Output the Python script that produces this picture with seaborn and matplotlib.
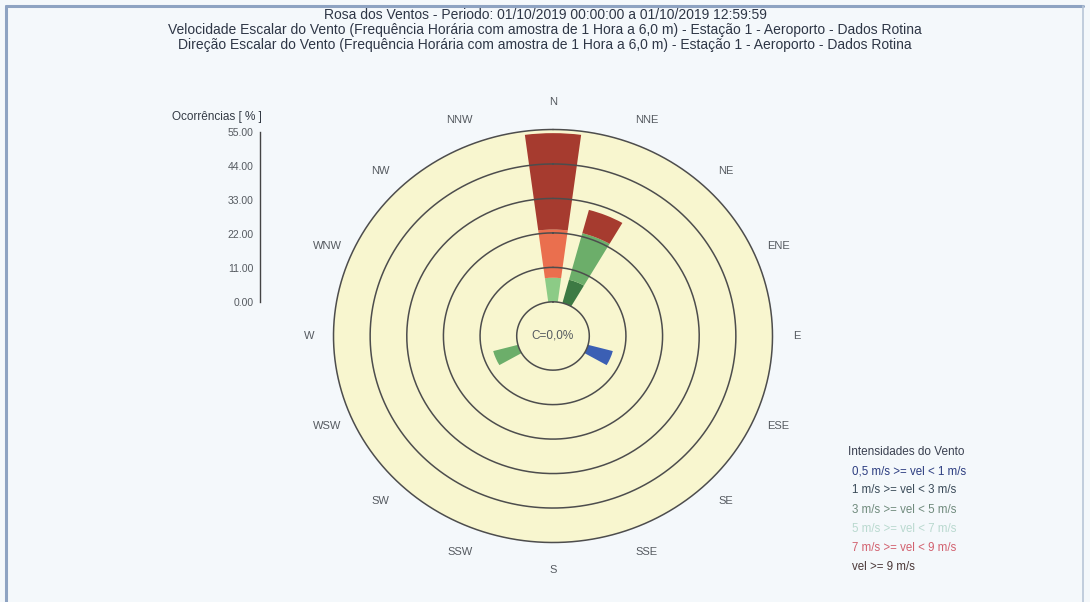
import numpy as np
import matplotlib
matplotlib.use("Agg")
import matplotlib.pyplot as plt
from matplotlib.lines import Line2D
import seaborn as sns

# Wind rose data: occurrences (%) per direction and speed class
directions = ["N", "NNE", "NE", "ENE", "E", "ESE", "SE", "SSE",
              "S", "SSW", "SW", "WSW", "W", "WNW", "NW", "NNW"]
vel_05_1 = [0, 0, 0, 0, 0, 7.69, 0, 0, 0, 0, 0, 0, 0, 0, 0, 0]
vel_1_3 = [0, 7.69, 0, 0, 0, 0, 0, 0, 0, 0, 0, 0, 0, 0, 0, 0]
vel_3_5 = [0, 15.38, 0, 0, 0, 0, 0, 0, 0, 0, 0, 7.69, 0, 0, 0, 0]
vel_5_7 = [7.69, 0, 0, 0, 0, 0, 0, 0, 0, 0, 0, 0, 0, 0, 0, 0]
vel_7_9 = [15.38, 0, 0, 0, 0, 0, 0, 0, 0, 0, 0, 0, 0, 0, 0, 0]
vel_9 = [30.77, 7.69, 0, 0, 0, 0, 0, 0, 0, 0, 0, 0, 0, 0, 0, 0]

class_labels = ["0,5 m/s >= vel < 1 m/s", "1 m/s >= vel < 3 m/s",
                "3 m/s >= vel < 5 m/s", "5 m/s >= vel < 7 m/s",
                "7 m/s >= vel < 9 m/s", "vel >= 9 m/s"]
scale_ticks = [0, 11, 22, 33, 44, 55]
calm_label = "C=0,0%"

titles = [
    "Rosa dos Ventos - Periodo: 01/10/2019 00:00:00 a 01/10/2019 12:59:59",
    "Velocidade Escalar do Vento (Frequência Horária com amostra de 1 Hora a 6,0 m) - Estação 1 - Aeroporto - Dados Rotina",
    "Direção Escalar do Vento (Frequência Horária com amostra de 1 Hora a 6,0 m) - Estação 1 - Aeroporto - Dados Rotina",
]

sns.set_style("white")
plt.rcParams["font.family"] = ["Liberation Sans", "DejaVu Sans"]

bar_colors = sns.color_palette(["#3b5fb4", "#3d7a44", "#6cae6a",
                                "#8ccb86", "#ea6f4e", "#a63b2f"])
legend_text_colors = ["#2c3d80", "#3a4a58", "#6f8a7c", "#b9d9cf",
                      "#d2606e", "#4a3838"]
label_col = "#555a60"

W, H = 1090, 602
fig = plt.figure(figsize=(W / 100, H / 100), dpi=100)
fig.patch.set_facecolor("#f4f8fb")

# page frame
frame_col = "#8ea3c2"
fig.add_artist(Line2D([6 / W, 1083 / W], [1 - 6 / H, 1 - 6 / H],
                      transform=fig.transFigure, color=frame_col, lw=2.2))
fig.add_artist(Line2D([6 / W, 6 / W], [0, 1 - 6 / H],
                      transform=fig.transFigure, color=frame_col, lw=2.2))
fig.add_artist(Line2D([1083 / W, 1083 / W], [0, 1 - 6 / H],
                      transform=fig.transFigure, color="#b8c6d8", lw=1.2))

for i, t in enumerate(titles):
    fig.text(545 / W, 1 - (15 + 14.8 * i) / H, t, ha="center", va="center",
             fontsize=10, color="#2e3646")

# polar rose: the calm circle occupies radii below zero
cx, cy, rx, ry = 553, 336, 219.5, 206.5
calm_r = -10.9
ax = fig.add_axes([(cx - rx) / W, (H - cy - ry) / H, 2 * rx / W, 2 * ry / H],
                  projection="polar")
ax.set_aspect("auto")
ax.set_theta_zero_location("N")
ax.set_theta_direction(-1)
rmax = scale_ticks[-1]
ax.set_ylim(calm_r, rmax)
ax.set_facecolor("#f8f6cf")
ax.grid(False)
ax.set_xticks([])
ax.set_yticks([])
ax.spines["polar"].set_visible(False)

theta = np.deg2rad(np.arange(len(directions)) * 22.5)
width = np.deg2rad(15)
bottom = np.zeros(len(directions))
for vals, col in zip([vel_05_1, vel_1_3, vel_3_5, vel_5_7, vel_7_9, vel_9],
                     bar_colors):
    vals = np.asarray(vals, dtype=float)
    ax.bar(theta, vals, width=width, bottom=bottom, color=col,
           edgecolor="none", zorder=2)
    bottom += vals

ring_t = np.linspace(0, 2 * np.pi, 400)
for r in scale_ticks:
    ax.plot(ring_t, np.full_like(ring_t, r), color="#4d4d4d", lw=1.1,
            zorder=3, clip_on=False)

ax.text(0, calm_r, calm_label, ha="center", va="center", fontsize=8.5,
        color=label_col, zorder=4)

# direction labels around the rose
for d, ang in zip(directions, theta):
    x = cx + 244 * np.sin(ang)
    y = cy - 234 * np.cos(ang)
    fig.text(x / W, 1 - y / H, d, ha="center", va="center", fontsize=8,
             color=label_col)

# radial scale
sx = fig.add_axes([260 / W, (H - 302) / H, 1 / W, 170 / H])
sx.set_facecolor("none")
sx.set_ylim(0, rmax)
sx.set_yticks(scale_ticks)
sx.set_yticklabels([f"{v:.2f}" for v in scale_ticks])
sx.set_xticks([])
sns.despine(ax=sx, top=True, right=True, bottom=True, left=False)
sx.spines["left"].set_color("#444444")
sx.spines["left"].set_linewidth(1.0)
sx.tick_params(axis="y", direction="out", length=4, width=1, color="#444444",
               labelsize=7.5, labelcolor=label_col, pad=0.5)
fig.text(262 / W, 1 - 117 / H, "Ocorrências [ % ]", ha="right", va="center",
         fontsize=8.5, color="#333a44")

# speed class legend
fig.text(848 / W, 1 - 452 / H, "Intensidades do Vento", ha="left", va="center",
         fontsize=8.5, color="#3a4050")
for i, (lab, col) in enumerate(zip(class_labels, legend_text_colors)):
    fig.text(852 / W, 1 - (471 + 19.3 * i) / H, lab, ha="left", va="center",
             fontsize=8.3, color=col)

fig.savefig("out.png", dpi=100, facecolor=fig.get_facecolor())
